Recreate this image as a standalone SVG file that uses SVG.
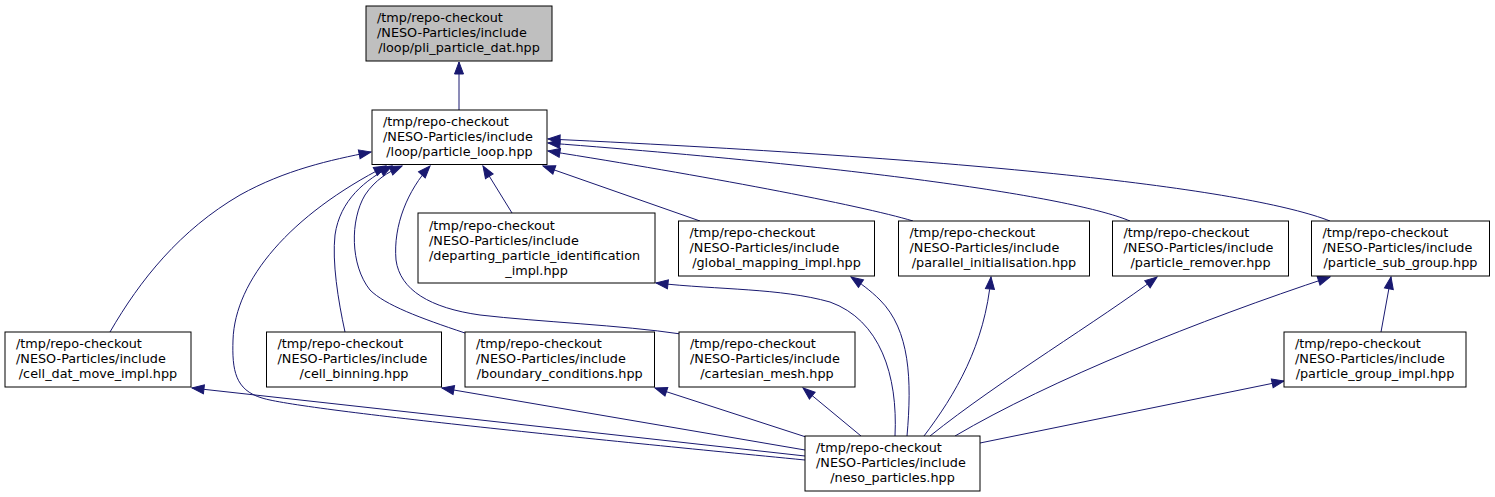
<svg xmlns="http://www.w3.org/2000/svg" width="1495" height="497" viewBox="0 0 1495 497">
<style>
.n rect{fill:#fff;stroke:#000;stroke-width:1}
.n.root rect{fill:#bfbfbf}
.n text{font-family:"DejaVu Sans","Liberation Sans",sans-serif;font-size:12.8px;fill:#000}
#edges path{fill:none;stroke:#191970;stroke-width:1;marker-end:url(#ah)}
</style>
<defs>
<marker id="ah" markerUnits="userSpaceOnUse" markerWidth="14" markerHeight="11" refX="13" refY="5.5" orient="auto">
<path d="M1,1 L13,5.5 L1,10 Z" fill="#191970" stroke="#191970" stroke-width="1"/>
</marker>
</defs>
<rect width="1495" height="497" fill="#fff"/>
<g id="edges">
<path d="M459,110 L459,62"/>
<path d="M110,332 C140,280 180,230 240,195 C285,170 330,160 371,152"/>
<path d="M805,460 C600,440 300,410 262,398 C235,390 232,370 233,340 C235,280 290,215 386,166"/>
<path d="M345,332 C338,300 332,262 335,235 C340,200 365,180 392,166"/>
<path d="M465,333 C420,318 385,305 370,290 C350,265 350,220 365,195 C375,180 388,172 402,166"/>
<path d="M681,334 C620,325 540,322 480,315 C430,308 400,290 396,260 C393,225 408,190 430,166"/>
<path d="M512,213 L483,166"/>
<path d="M700,221 L543,166"/>
<path d="M913,221 C860,205 700,175 548,151"/>
<path d="M1130,221 C1080,200 900,170 548,143"/>
<path d="M1330,221 C1250,190 1000,160 548,139"/>
<path d="M805,456 L192,388"/>
<path d="M805,450 L442,388"/>
<path d="M806,437 L655,388"/>
<path d="M861,436 L803,388"/>
<path d="M895,436 C898,375 880,320 830,302 C780,288 720,290 656,283"/>
<path d="M907,436 C912,380 910,330 880,300 C870,290 860,283 851,277"/>
<path d="M924,436 C955,395 985,345 991,277"/>
<path d="M930,436 C1000,380 1100,320 1157,277"/>
<path d="M955,436 C1050,380 1200,320 1330,277"/>
<path d="M980,443 L1284,381"/>
<path d="M1381,332 L1391,277"/>
</g>
<g id="pli" class="n root">
<rect x="366" y="6" width="186" height="55"/>
<text x="377" y="22">/tmp/repo-checkout</text>
<text x="377" y="37">/NESO-Particles/include</text>
<text x="459" y="52" text-anchor="middle">/loop/pli_particle_dat.hpp</text>
</g>
<g id="particle_loop" class="n">
<rect x="372" y="110" width="175" height="54.5"/>
<text x="383" y="126">/tmp/repo-checkout</text>
<text x="383" y="141">/NESO-Particles/include</text>
<text x="459.5" y="156" text-anchor="middle">/loop/particle_loop.hpp</text>
</g>
<g id="departing" class="n">
<rect x="418" y="213" width="237" height="70"/>
<text x="429" y="230">/tmp/repo-checkout</text>
<text x="429" y="245">/NESO-Particles/include</text>
<text x="429" y="260">/departing_particle_identification</text>
<text x="536.5" y="275" text-anchor="middle">_impl.hpp</text>
</g>
<g id="global_mapping" class="n">
<rect x="678.5" y="221" width="196" height="55"/>
<text x="689.5" y="237">/tmp/repo-checkout</text>
<text x="689.5" y="252">/NESO-Particles/include</text>
<text x="776.5" y="267" text-anchor="middle">/global_mapping_impl.hpp</text>
</g>
<g id="parallel_init" class="n">
<rect x="898.5" y="221" width="191" height="55"/>
<text x="909.5" y="237">/tmp/repo-checkout</text>
<text x="909.5" y="252">/NESO-Particles/include</text>
<text x="994" y="267" text-anchor="middle">/parallel_initialisation.hpp</text>
</g>
<g id="particle_remover" class="n">
<rect x="1112.5" y="221" width="176" height="55"/>
<text x="1123.5" y="237">/tmp/repo-checkout</text>
<text x="1123.5" y="252">/NESO-Particles/include</text>
<text x="1200.5" y="267" text-anchor="middle">/particle_remover.hpp</text>
</g>
<g id="particle_sub_group" class="n">
<rect x="1311.5" y="221" width="178" height="55"/>
<text x="1322.5" y="237">/tmp/repo-checkout</text>
<text x="1322.5" y="252">/NESO-Particles/include</text>
<text x="1400.5" y="267" text-anchor="middle">/particle_sub_group.hpp</text>
</g>
<g id="cell_dat_move" class="n">
<rect x="5" y="332" width="186" height="55"/>
<text x="16" y="348">/tmp/repo-checkout</text>
<text x="16" y="363">/NESO-Particles/include</text>
<text x="98" y="378" text-anchor="middle">/cell_dat_move_impl.hpp</text>
</g>
<g id="cell_binning" class="n">
<rect x="266.5" y="332" width="175" height="55"/>
<text x="277.5" y="348">/tmp/repo-checkout</text>
<text x="277.5" y="363">/NESO-Particles/include</text>
<text x="354" y="378" text-anchor="middle">/cell_binning.hpp</text>
</g>
<g id="boundary_conditions" class="n">
<rect x="465" y="332" width="189.5" height="55"/>
<text x="476" y="348">/tmp/repo-checkout</text>
<text x="476" y="363">/NESO-Particles/include</text>
<text x="559.75" y="378" text-anchor="middle">/boundary_conditions.hpp</text>
</g>
<g id="cartesian_mesh" class="n">
<rect x="679" y="332" width="176" height="55"/>
<text x="690" y="348">/tmp/repo-checkout</text>
<text x="690" y="363">/NESO-Particles/include</text>
<text x="767" y="378" text-anchor="middle">/cartesian_mesh.hpp</text>
</g>
<g id="particle_group_impl" class="n">
<rect x="1284" y="332" width="182" height="55"/>
<text x="1295" y="348">/tmp/repo-checkout</text>
<text x="1295" y="363">/NESO-Particles/include</text>
<text x="1375" y="378" text-anchor="middle">/particle_group_impl.hpp</text>
</g>
<g id="neso_particles" class="n">
<rect x="805" y="436" width="175" height="55"/>
<text x="816" y="452">/tmp/repo-checkout</text>
<text x="816" y="467">/NESO-Particles/include</text>
<text x="892.5" y="482" text-anchor="middle">/neso_particles.hpp</text>
</g>
</svg>
